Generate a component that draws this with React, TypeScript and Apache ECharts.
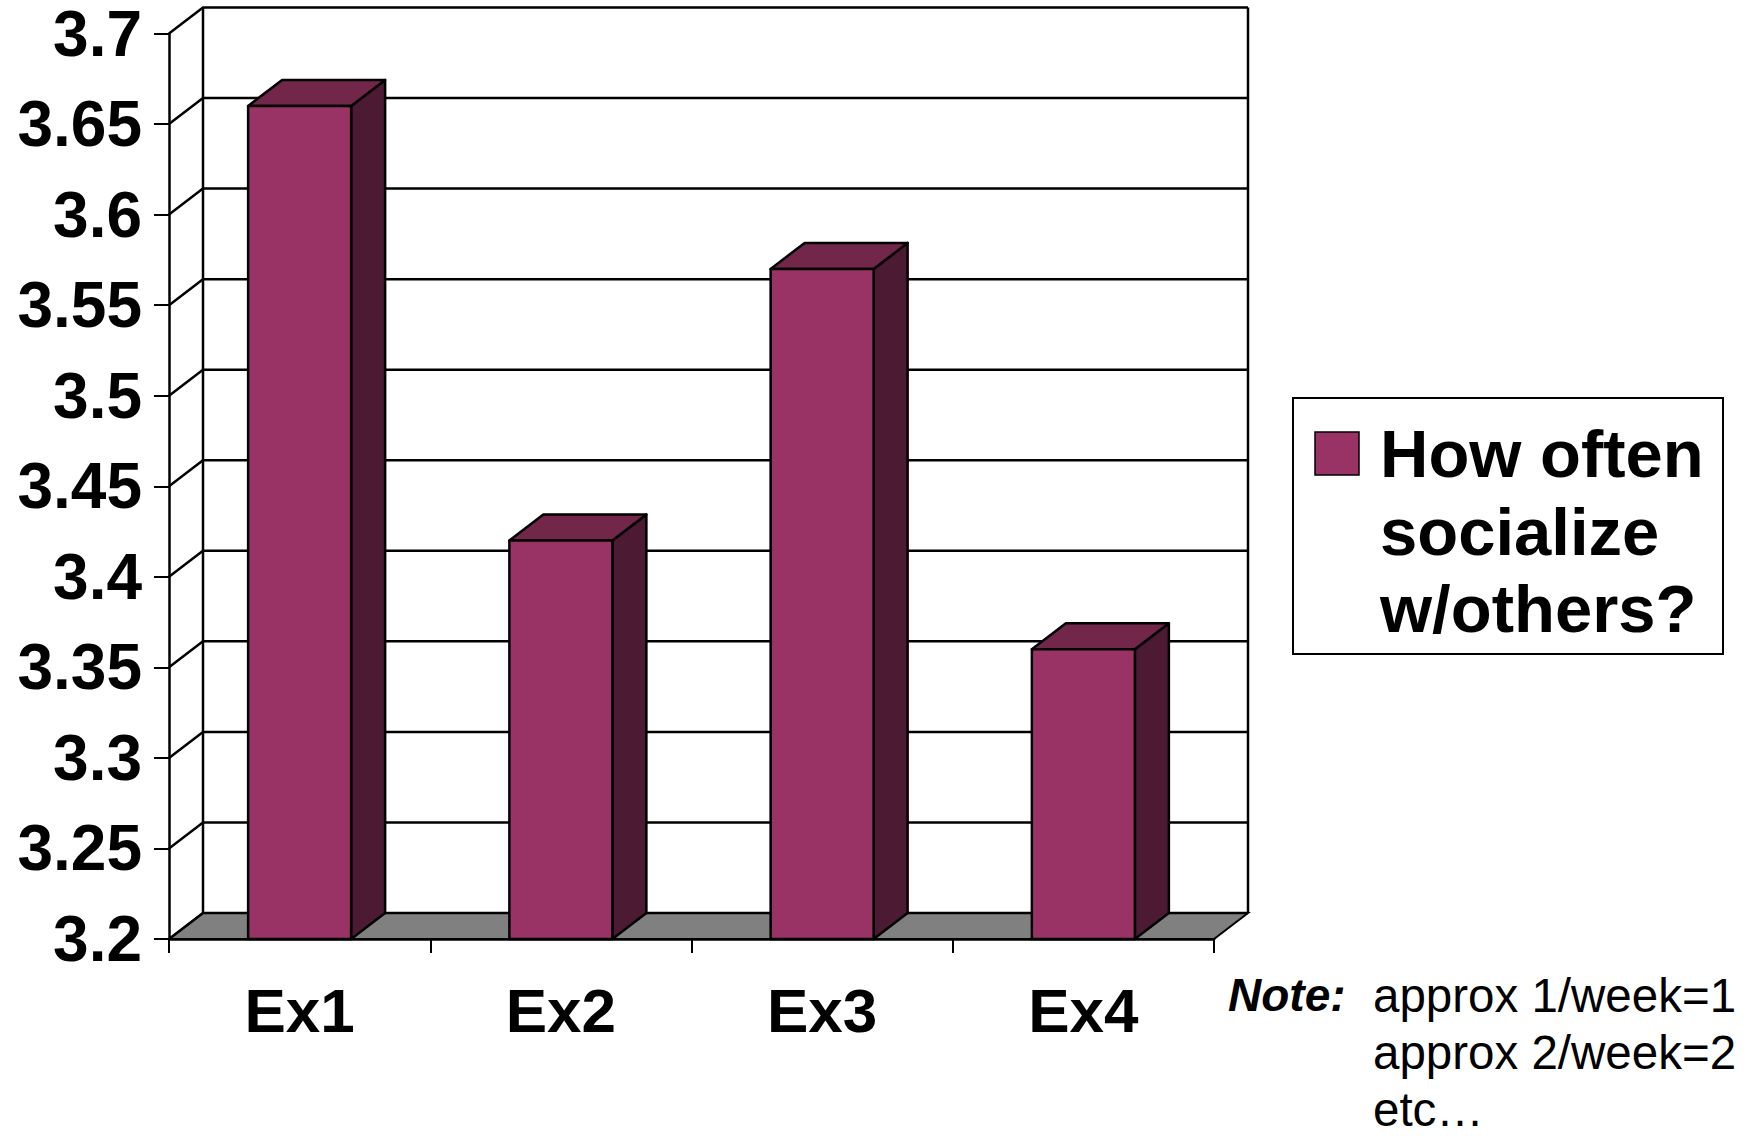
import React, { useEffect, useRef } from "react";
import * as echarts from "echarts";

const categories = ["Ex1", "Ex2", "Ex3", "Ex4"];
const seriesName = "How often socialize w/others?";
const values = [3.66, 3.42, 3.57, 3.36];
const yTickValues = [3.2, 3.25, 3.3, 3.35, 3.4, 3.45, 3.5, 3.55, 3.6, 3.65, 3.7];
const yTickLabels = ["3.2", "3.25", "3.3", "3.35", "3.4", "3.45", "3.5", "3.55", "3.6", "3.65", "3.7"];
const legendLines = ["How often", "socialize", "w/others?"];
const noteLabel = "Note:";
const noteLines = ["approx 1/week=1", "approx 2/week=2", "etc…"];

const FRONT = "#993366";
const TOP = "#72264a";
const SIDE = "#4d1a33";
const DX = 34;
const DY = 26;
const BAR_W = 103;

export default function App() {
  const ref = useRef<HTMLDivElement>(null);
  useEffect(() => {
    if (!ref.current) return;
    const chart = echarts.init(ref.current, undefined, { renderer: "svg" });
    const font = "Liberation Sans, Arial, sans-serif";
    const option: any = {
      animation: false,
      backgroundColor: "#ffffff",
      grid: { left: 169, top: 33.5, width: 1045, height: 905.5, containLabel: false },
      xAxis: {
        type: "category",
        data: categories,
        boundaryGap: true,
        axisLine: { show: true, lineStyle: { color: "#000", width: 2.5 } },
        axisTick: { show: true, length: 14, lineStyle: { color: "#000", width: 2 } },
        axisLabel: {
          margin: 40,
          color: "#000",
          fontFamily: font,
          fontWeight: "bold",
          fontSize: 62,
        },
        splitLine: { show: false },
        z: 10,
      },
      yAxis: {
        type: "value",
        min: 3.2,
        max: 3.7,
        interval: 0.05,
        axisLine: { show: true, lineStyle: { color: "#000", width: 2.5 } },
        axisTick: { show: true, length: 15, lineStyle: { color: "#000", width: 2 } },
        axisLabel: {
          margin: 27,
          color: "#000",
          fontFamily: font,
          fontWeight: "bold",
          fontSize: 64,
          lineHeight: 50,
          formatter: (v: number) => {
            let best = 0;
            for (let i = 0; i < yTickValues.length; i++) {
              if (Math.abs(yTickValues[i] - v) < Math.abs(yTickValues[best] - v)) best = i;
            }
            return yTickLabels[best];
          },
        },
        splitLine: { show: false },
        z: 10,
      },
      series: [
        {
          type: "custom",
          name: "floor",
          silent: true,
          z: 1,
          data: [[0, 3.2]],
          renderItem: (params: any, api: any) => {
            const cs = params.coordSys;
            const L = cs.x, R = cs.x + cs.width, T = cs.y, B = cs.y + cs.height;
            return {
              type: "group",
              children: [
                {
                  type: "polygon",
                  shape: { points: [[L, B], [R, B], [R + DX, B - DY], [L + DX, B - DY]] },
                  style: { fill: "#808080", stroke: "#000", lineWidth: 2 },
                },
                {
                  type: "line",
                  shape: { x1: L + DX, y1: T - DY, x2: L + DX, y2: B - DY },
                  style: { stroke: "#000", lineWidth: 2.5 },
                },
                {
                  type: "line",
                  shape: { x1: R + DX, y1: T - DY, x2: R + DX, y2: B - DY },
                  style: { stroke: "#000", lineWidth: 2.5 },
                },
              ],
            };
          },
        },
        {
          type: "custom",
          name: "grid",
          silent: true,
          z: 2,
          data: yTickValues.map((v) => [0, v]),
          renderItem: (params: any, api: any) => {
            const cs = params.coordSys;
            const L = cs.x, R = cs.x + cs.width;
            const y = api.coord([0, api.value(1)])[1];
            return {
              type: "polyline",
              shape: { points: [[L, y], [L + DX, y - DY], [R + DX, y - DY]] },
              style: { stroke: "#000", lineWidth: 2.5, fill: null },
            };
          },
        },
        {
          type: "custom",
          name: seriesName,
          z: 5,
          itemStyle: { color: FRONT },
          encode: { x: 0, y: 1 },
          data: values.map((v, i) => [i, v]),
          renderItem: (params: any, api: any) => {
            const idx = api.value(0);
            const top = api.coord([idx, api.value(1)]);
            const base = api.coord([idx, 3.2]);
            const x0 = top[0] - BAR_W / 2;
            const x1 = top[0] + BAR_W / 2;
            const ty = top[1];
            const by = base[1];
            const stroke = { stroke: "#000", lineWidth: 2.5, lineJoin: "round" };
            return {
              type: "group",
              children: [
                {
                  type: "polygon",
                  shape: { points: [[x1, ty], [x1 + DX, ty - DY], [x1 + DX, by - DY], [x1, by]] },
                  style: { fill: SIDE, ...stroke },
                },
                {
                  type: "polygon",
                  shape: { points: [[x0, ty], [x0 + DX, ty - DY], [x1 + DX, ty - DY], [x1, ty]] },
                  style: { fill: TOP, ...stroke },
                },
                {
                  type: "rect",
                  shape: { x: x0, y: ty, width: BAR_W, height: by - ty },
                  style: { fill: FRONT, ...stroke },
                },
              ],
            };
          },
        },
      ],
      graphic: [
        {
          type: "rect",
          shape: { x: 1293, y: 398, width: 430, height: 256 },
          style: { fill: "#fff", stroke: "#000", lineWidth: 2 },
        },
        {
          type: "rect",
          shape: { x: 1315, y: 432, width: 44, height: 43 },
          style: { fill: FRONT, stroke: "#000", lineWidth: 1.5 },
        },
        ...legendLines.map((t, i) => ({
          type: "text",
          x: 1380,
          y: 453.5 + i * 77.5,
          style: {
            text: t,
            fill: "#000",
            font: `bold 67px ${font}`,
            textAlign: "left",
            textVerticalAlign: "middle",
          },
        })),
        {
          type: "text",
          x: 1228,
          y: 995,
          style: {
            text: noteLabel,
            fill: "#000",
            font: `italic bold 46px ${font}`,
            textAlign: "left",
            textVerticalAlign: "middle",
          },
        },
        ...noteLines.map((t, i) => ({
          type: "text",
          x: 1373,
          y: 995 + i * 57,
          style: {
            text: t,
            fill: "#000",
            font: `47.5px ${font}`,
            textAlign: "left",
            textVerticalAlign: "middle",
          },
        })),
      ],
    };
    chart.setOption(option);
    return () => chart.dispose();
  }, []);
  return (
    <div
      ref={ref}
      style={{ position: "fixed", left: 0, top: 0, width: 1764, height: 1136, background: "#fff" }}
    />
  );
}
